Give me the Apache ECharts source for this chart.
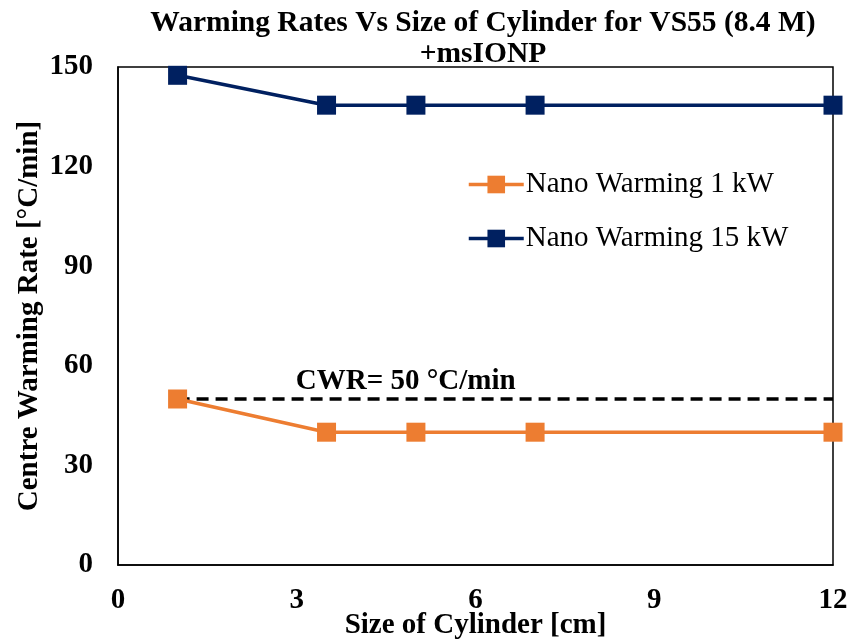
<!DOCTYPE html>
<html>
<head>
<meta charset="utf-8">
<script src="https://cdn.jsdelivr.net/npm/echarts@6/dist/echarts.min.js"></script>
<style>
  html, body { margin: 0; padding: 0; background: #fff; }
  #chart { width: 851px; height: 643px; }
</style>
</head>
<body>
<div id="chart"></div>
<script>
// Cylinder sizes (cm) and centre warming rates (°C/min)
const cylinderSize = [1, 3.5, 5, 7, 12];
const rate1kW = [50, 40, 40, 40, 40];
const rate15kW = [147.5, 138.5, 138.5, 138.5, 138.5];
const thresholdX = [1, 12];
const thresholdValue = 50;
const thresholdLabelX = 4.83;
const xTicks = { min: 0, max: 12, interval: 3 };
const yTicks = { min: 0, max: 150, interval: 30 };

const serif = '"Liberation Serif", "Times New Roman", serif';
const pairs = (xs, ys) => xs.map((x, i) => [x, ys[i]]);

const chart = echarts.init(document.getElementById('chart'), null, { renderer: 'canvas' });

chart.setOption({
  backgroundColor: '#fff',
  animation: false,
  title: {
    text: 'Warming Rates Vs Size of Cylinder for VS55 (8.4 M)\n+msIONP',
    left: 478,
    textAlign: 'center',
    top: 3,
    textStyle: {
      fontFamily: serif, fontWeight: 'bold', fontSize: 29.5,
      lineHeight: 31, color: '#000'
    }
  },
  grid: {
    left: 118, right: 18, top: 67, bottom: 78,
    show: true, borderColor: '#000', borderWidth: 1.5,
    containLabel: false,
    outerBoundsMode: 'none'
  },
  legend: {
    data: ['Nano Warming 1 kW', 'Nano Warming 15 kW'],
    orient: 'vertical',
    left: 462, top: 165,
    itemWidth: 55, itemHeight: 22,
    itemGap: 25,
    lineStyle: { width: 3.5 },
    textStyle: { fontFamily: serif, fontSize: 29, color: '#000', padding: [0, 0, 0, -3] }
  },
  xAxis: {
    type: 'value',
    min: xTicks.min, max: xTicks.max, interval: xTicks.interval,
    name: 'Size of Cylinder [cm]',
    nameLocation: 'middle', nameGap: 46,
    nameMoveOverlap: false,
    nameTextStyle: { fontFamily: serif, fontWeight: 'bold', fontSize: 29, color: '#000' },
    axisLine: { show: true, lineStyle: { color: '#000', width: 1.5 } },
    axisTick: { show: false },
    splitLine: { show: false },
    axisLabel: { fontFamily: serif, fontWeight: 'bold', fontSize: 29, color: '#000', margin: 21 }
  },
  yAxis: {
    type: 'value',
    min: yTicks.min, max: yTicks.max, interval: yTicks.interval,
    name: 'Centre Warming Rate [°C/min]',
    nameLocation: 'middle', nameGap: 74,
    nameMoveOverlap: false,
    nameTextStyle: { fontFamily: serif, fontWeight: 'bold', fontSize: 29, color: '#000' },
    axisLine: { show: true, lineStyle: { color: '#000', width: 1.5 } },
    axisTick: { show: false },
    splitLine: { show: false },
    axisLabel: { fontFamily: serif, fontWeight: 'bold', fontSize: 29, color: '#000', margin: 25 }
  },
  series: [
    {
      name: 'CWR',
      type: 'line',
      data: pairs(thresholdX, [thresholdValue, thresholdValue]),
      symbol: 'none',
      silent: true,
      z: 1,
      lineStyle: { color: '#000', width: 3.5, type: [12, 7] }
    },
    {
      name: 'CWR label',
      type: 'scatter',
      data: [[thresholdLabelX, thresholdValue]],
      symbolSize: 0,
      silent: true,
      itemStyle: { opacity: 1 },
      label: {
        show: true, position: 'top', distance: 3,
        formatter: 'CWR= 50 °C/min',
        fontFamily: serif, fontWeight: 'bold', fontSize: 29, color: '#000'
      }
    },
    {
      name: 'Nano Warming 1 kW',
      type: 'line',
      data: pairs(cylinderSize, rate1kW),
      symbol: 'rect', symbolSize: 19,
      z: 3,
      itemStyle: { color: '#ED7D31' },
      lineStyle: { color: '#ED7D31', width: 3.5 }
    },
    {
      name: 'Nano Warming 15 kW',
      type: 'line',
      data: pairs(cylinderSize, rate15kW),
      symbol: 'rect', symbolSize: 19,
      z: 3,
      itemStyle: { color: '#002060' },
      lineStyle: { color: '#002060', width: 3.5 }
    }
  ]
});
</script>
</body>
</html>
